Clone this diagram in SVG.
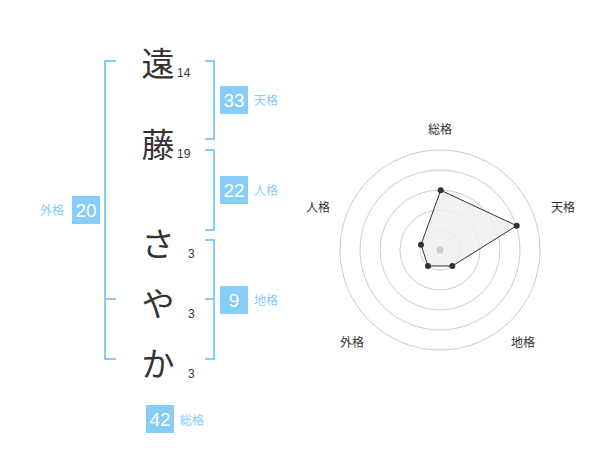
<svg xmlns="http://www.w3.org/2000/svg" width="600" height="470" viewBox="0 0 600 470">
<style>
.br{fill:none;stroke:#86cdf8;stroke-width:2}
.box{fill:#86cdf8}
.bn{font-family:"Liberation Sans",sans-serif;font-size:19px;fill:#fff;text-anchor:middle}
.lb{font-family:"Noto Sans CJK JP",sans-serif;font-size:12px;fill:#86cdf8}
.ch{font-family:"Noto Sans CJK JP",sans-serif;font-size:33px;fill:#333;text-anchor:middle}
.n{font-family:"Liberation Sans",sans-serif;font-size:12px;fill:#333}
.rl{font-family:"Noto Sans CJK JP",sans-serif;font-size:12px;fill:#333;text-anchor:middle}
.ring{fill:none;stroke:#ccc;stroke-width:1}
.pt{fill:#333}
</style>
<rect width="600" height="470" fill="#fff"/>
<g id="brackets">
<path class="br" d="M116,61H105V359H116M105,299H116"/>
<path class="br" d="M205,61H214V139H205"/>
<path class="br" d="M205,150H214V230H205"/>
<path class="br" d="M205,240H214V359H205M205,299H214"/>
</g>
<g id="chars">
<text class="ch" x="158" y="76">遠</text><text class="n" x="177" y="77">14</text>
<text class="ch" x="158" y="157">藤</text><text class="n" x="177" y="158">19</text>
<text class="ch" x="158" y="256">さ</text><text class="n" x="188" y="258">3</text>
<text class="ch" x="158" y="316">や</text><text class="n" x="188" y="318">3</text>
<text class="ch" x="158" y="376">か</text><text class="n" x="188" y="378">3</text>
</g>
<g id="tenkaku"><rect class="box" x="220" y="86" width="28" height="28"/><text class="bn" x="234" y="107">33</text><text class="lb" x="254" y="105">天格</text></g>
<g id="jinkaku"><rect class="box" x="220" y="176" width="28" height="28"/><text class="bn" x="234" y="197">22</text><text class="lb" x="254" y="195">人格</text></g>
<g id="chikaku"><rect class="box" x="220" y="286" width="28" height="28"/><text class="bn" x="234" y="307">9</text><text class="lb" x="254" y="305">地格</text></g>
<g id="gaikaku"><rect class="box" x="72" y="196" width="28" height="28"/><text class="bn" x="86" y="217">20</text><text class="lb" x="40" y="215">外格</text></g>
<g id="soukaku"><rect class="box" x="146" y="405" width="28" height="28"/><text class="bn" x="160" y="426">42</text><text class="lb" x="180" y="425">総格</text></g>
<g id="radar">
<circle class="ring" cx="440" cy="250" r="20"/>
<circle class="ring" cx="440" cy="250" r="40"/>
<circle class="ring" cx="440" cy="250" r="60"/>
<circle class="ring" cx="440" cy="250" r="80"/>
<circle class="ring" cx="440" cy="250" r="100"/>
<polygon points="440.7,190.3 516.7,225.7 452.3,266 428,266 421,244.7" fill="#eee" fill-opacity="0.8" stroke="#333" stroke-width="1"/>
<circle cx="440" cy="250" r="3.5" fill="#ccc"/>
<circle class="pt" cx="440.7" cy="190.3" r="3"/>
<circle class="pt" cx="516.7" cy="225.7" r="3"/>
<circle class="pt" cx="452.3" cy="266" r="3"/>
<circle class="pt" cx="428" cy="266" r="3"/>
<circle class="pt" cx="421" cy="244.7" r="3"/>
<text class="rl" x="440" y="134">総格</text>
<text class="rl" x="563" y="212">天格</text>
<text class="rl" x="523" y="347">地格</text>
<text class="rl" x="352" y="347">外格</text>
<text class="rl" x="318" y="212">人格</text>
</g>
</svg>
